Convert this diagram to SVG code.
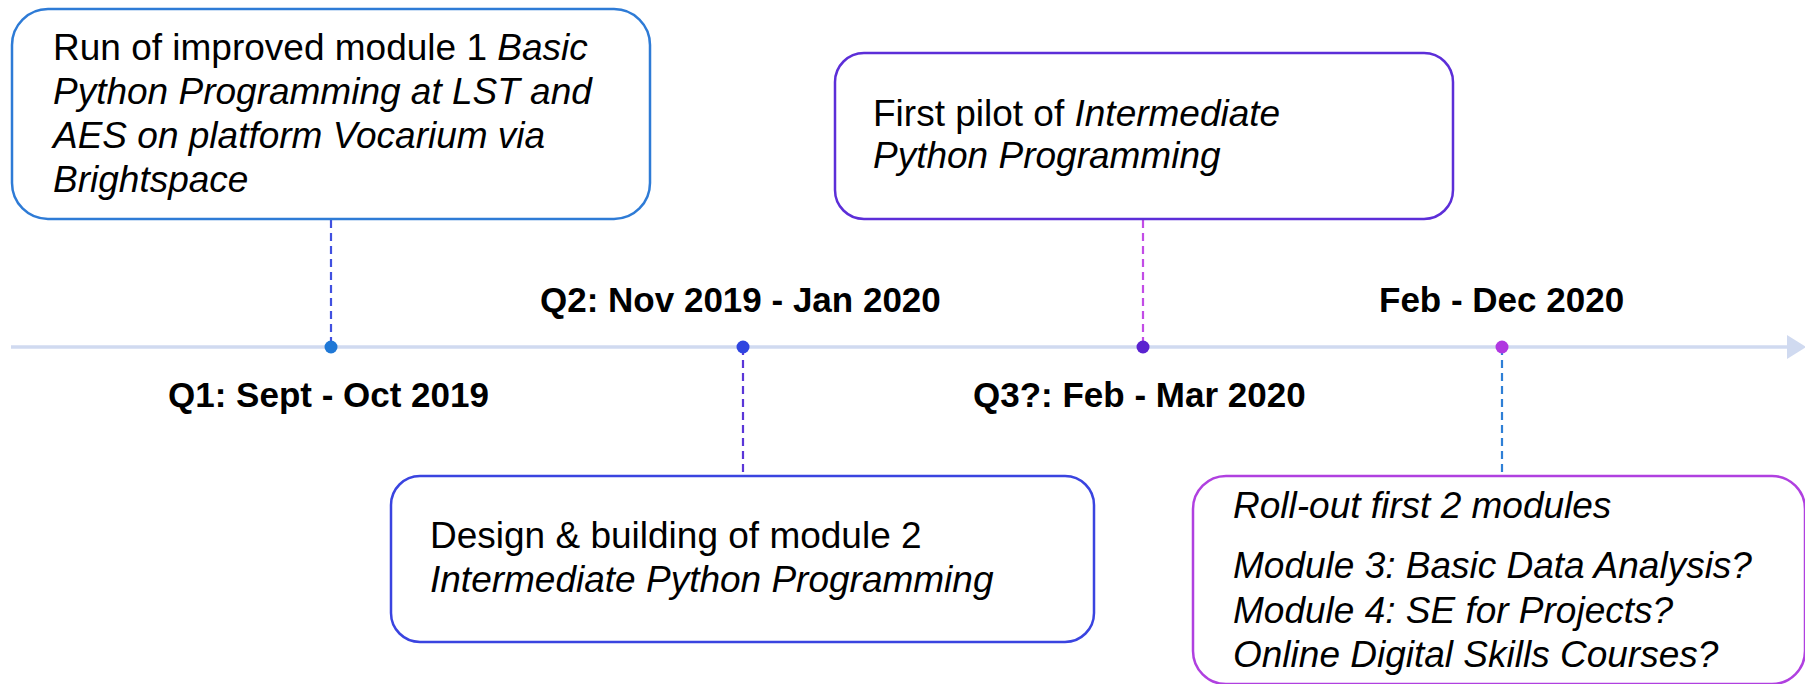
<svg xmlns="http://www.w3.org/2000/svg" width="1805" height="684" viewBox="0 0 1805 684">
<style>
  .box { fill: #ffffff; stroke-width: 2.5; }
  .t { font-family: "Liberation Sans", Arial, sans-serif; font-size: 37px; fill: #000000; }
  .i { font-style: italic; }
  .lbl { font-family: "Liberation Sans", Arial, sans-serif; font-size: 35px; font-weight: bold; fill: #000000; }
  .dash { stroke-width: 2.2; stroke-dasharray: 8 5; fill: none; }
</style>
<rect width="1805" height="684" fill="#ffffff"/>
<g id="timeline">
  <line x1="11" y1="347" x2="1790" y2="347" stroke="#d0daf0" stroke-width="3.5"/>
  <polygon points="1787,335 1806,347 1787,359" fill="#d0daf0"/>
</g>
<g id="connectors">
  <line class="dash" x1="331" y1="220" x2="331" y2="347" stroke="#4150e0"/>
  <line class="dash" x1="743" y1="347" x2="743" y2="476" stroke="#5a36d8"/>
  <line class="dash" x1="1143" y1="220" x2="1143" y2="347" stroke="#c24ce6"/>
  <line class="dash" x1="1502" y1="347" x2="1502" y2="476" stroke="#2e7fd6"/>
</g>
<g id="dots">
  <circle cx="331" cy="347" r="6.5" fill="#1f78d6"/>
  <circle cx="743" cy="347" r="6.5" fill="#2f45e0"/>
  <circle cx="1143" cy="347" r="6.5" fill="#5a22d0"/>
  <circle cx="1502" cy="347" r="6.5" fill="#b038e0"/>
</g>
<g id="node-q1">
  <rect class="box" x="12" y="9" width="638" height="210" rx="36" ry="36" stroke="#2e7bd6"/>
  <text class="t" x="53" y="60">Run of improved module 1 <tspan class="i">Basic</tspan></text>
  <text class="t i" x="53" y="104">Python Programming at LST and</text>
  <text class="t i" x="53" y="148">AES on platform Vocarium via</text>
  <text class="t i" x="53" y="192">Brightspace</text>
</g>
<g id="label-q1">
  <text class="lbl" x="168" y="407">Q1: Sept - Oct 2019</text>
</g>
<g id="node-q2">
  <rect class="box" x="391" y="476" width="703" height="166" rx="29" ry="29" stroke="#3a44e0"/>
  <text class="t" x="430" y="548">Design &amp; building of module 2</text>
  <text class="t i" x="430" y="592">Intermediate Python Programming</text>
</g>
<g id="label-q2">
  <text class="lbl" x="540" y="312">Q2: Nov 2019 - Jan 2020</text>
</g>
<g id="node-q3">
  <rect class="box" x="835" y="53" width="618" height="166" rx="29" ry="29" stroke="#5c2ed8"/>
  <text class="t" x="873" y="126">First pilot of <tspan class="i">Intermediate</tspan></text>
  <text class="t i" x="873" y="168">Python Programming</text>
</g>
<g id="label-q3">
  <text class="lbl" x="973" y="407">Q3?: Feb - Mar 2020</text>
</g>
<g id="node-q4">
  <rect class="box" x="1193" y="476" width="612" height="208" rx="33" ry="33" stroke="#b040e0"/>
  <text class="t i" x="1233" y="518">Roll-out first 2 modules</text>
  <text class="t i" x="1233" y="578">Module 3: Basic Data Analysis?</text>
  <text class="t i" x="1233" y="623">Module 4: SE for Projects?</text>
  <text class="t i" x="1233" y="667">Online Digital Skills Courses?</text>
</g>
<g id="label-q4">
  <text class="lbl" x="1379" y="312">Feb - Dec 2020</text>
</g>
</svg>
